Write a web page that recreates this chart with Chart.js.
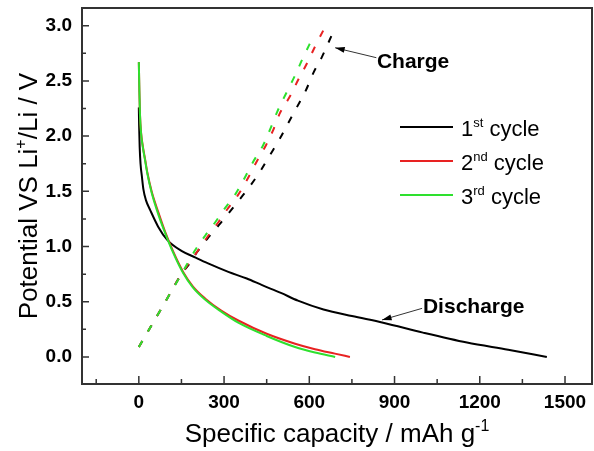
<!DOCTYPE html>
<html lang="en">
<head>
<meta charset="UTF-8">
<title>Potential vs specific capacity</title>
<script src="https://cdn.jsdelivr.net/npm/chart.js"></script>
<style>
    body { margin: 0; background: #fff; }
    #wrap { width: 594px; height: 451px; }
</style>
</head>
<body>
<div id="wrap"><canvas id="capChart" width="594" height="451"></canvas></div>
<script>
// values: capacity in mAh/g, potential in V
const dis1Cap = [0, 1, 3, 6, 11, 16, 25, 40, 68, 100, 150, 200, 250, 315, 380, 434, 500, 560, 650, 750, 860, 1000, 1155, 1300, 1436];
const dis1V   = [2.26, 2.1, 1.9, 1.75, 1.63, 1.52, 1.42, 1.33, 1.18, 1.06, 0.96, 0.9, 0.84, 0.77, 0.71, 0.65, 0.58, 0.51, 0.43, 0.37, 0.31, 0.22, 0.13, 0.065, 0.0];
const dis2Cap = [0, 2, 4, 8, 14, 22, 30, 45, 70, 93, 120, 156, 190, 233, 290, 350, 450, 550, 620, 690, 743];
const dis2V   = [2.67, 2.4, 2.2, 2.03, 1.91, 1.79, 1.67, 1.5, 1.3, 1.13, 0.96, 0.77, 0.64, 0.53, 0.42, 0.33, 0.21, 0.12, 0.07, 0.03, 0.0];
const dis3Cap = [0, 2, 4, 8, 14, 22, 30, 45, 70, 93, 120, 156, 190, 233, 290, 350, 450, 550, 620, 691];
const dis3V   = [2.67, 2.4, 2.2, 2.02, 1.9, 1.78, 1.66, 1.49, 1.28, 1.12, 0.95, 0.76, 0.63, 0.52, 0.41, 0.31, 0.19, 0.09, 0.04, 0.0];

const chg1Cap = [0, 50, 100, 150, 180, 205, 244, 287, 322, 356, 392, 427, 462, 497, 522, 556, 589, 614, 645, 680];
const chg1V   = [0.09, 0.31, 0.53, 0.75, 0.85, 0.95, 1.08, 1.21, 1.32, 1.43, 1.55, 1.68, 1.83, 1.98, 2.1, 2.26, 2.42, 2.57, 2.72, 2.92];
const chg2Cap = [0, 50, 100, 150, 210, 245, 280, 315, 350, 380, 415, 448, 472, 497, 532, 561, 592, 620, 662];
const chg2V   = [0.09, 0.31, 0.53, 0.75, 0.97, 1.1, 1.22, 1.35, 1.47, 1.6, 1.77, 1.92, 2.05, 2.21, 2.36, 2.51, 2.66, 2.81, 3.02];
const chg3Cap = [0, 50, 100, 150, 199, 234, 269, 304, 339, 368, 403, 438, 462, 487, 521, 550, 578, 610];
const chg3V   = [0.09, 0.31, 0.53, 0.75, 0.97, 1.1, 1.22, 1.35, 1.47, 1.6, 1.77, 1.92, 2.06, 2.22, 2.4, 2.55, 2.71, 2.88];

const cycleNums = ['1', '2', '3'];
const cycleSups = ['st', 'nd', 'rd'];
const cycleColors = ['#000000', '#e82222', '#2ee02e'];

const xMajor = [0, 300, 600, 900, 1200, 1500];
const xMinor = [-150, 150, 450, 750, 1050, 1350];
const yMajor = [0, 0.5, 1.0, 1.5, 2.0, 2.5, 3.0];
const yMinor = [0.25, 0.75, 1.25, 1.75, 2.25, 2.75];

// annotation text + arrow (text anchor, arrow start, arrow tip) in data units
const notes = [
    { text: 'Charge',    at: [838, 2.62], from: [836, 2.71], to: [691, 2.80] },
    { text: 'Discharge', at: [1000, 0.40], from: [997, 0.44], to: [856, 0.335] }
];

const FONT = 'Arial, "Liberation Sans", sans-serif';

function pts(xs, ys) {
    return xs.map((x, i) => ({ x: x, y: ys[i] }));
}

function fontStr(size, bold) {
    return (bold ? 'bold ' : '') + size + 'px ' + FONT;
}

// parts: [{t, sup}] drawn on one baseline, superscripts smaller and raised
function richWidth(ctx, parts, size, bold) {
    let w = 0;
    parts.forEach(p => {
        ctx.font = fontStr(p.sup ? Math.round(size * 0.6) : size, bold);
        w += ctx.measureText(p.t).width;
    });
    return w;
}

function drawRich(ctx, parts, x, y, size, bold, align) {
    let cx = align === 'center' ? x - richWidth(ctx, parts, size, bold) / 2 : x;
    ctx.textAlign = 'left';
    ctx.textBaseline = 'alphabetic';
    parts.forEach(p => {
        const s = p.sup ? Math.round(size * 0.6) : size;
        ctx.font = fontStr(s, bold);
        ctx.fillText(p.t, cx, p.sup ? y - size * 0.42 : y);
        cx += ctx.measureText(p.t).width;
    });
}

const decorPlugin = {
    id: 'decor',
    afterDatasetsDraw(chart) {
        const ctx = chart.ctx;
        const a = chart.chartArea;
        const xs = chart.scales.x, ys = chart.scales.y;
        ctx.save();

        // frame top and right
        ctx.strokeStyle = '#333';
        ctx.lineWidth = 2;
        ctx.beginPath();
        ctx.moveTo(a.left, a.top);
        ctx.lineTo(a.right, a.top);
        ctx.lineTo(a.right, a.bottom);
        ctx.stroke();

        // inward ticks
        ctx.lineWidth = 1.5;
        ctx.beginPath();
        yMajor.forEach(v => { const p = ys.getPixelForValue(v); ctx.moveTo(a.left, p); ctx.lineTo(a.left + 7, p); });
        yMinor.forEach(v => { const p = ys.getPixelForValue(v); ctx.moveTo(a.left, p); ctx.lineTo(a.left + 4, p); });
        xMajor.forEach(v => { const p = xs.getPixelForValue(v); ctx.moveTo(p, a.bottom); ctx.lineTo(p, a.bottom - 8); });
        xMinor.forEach(v => { const p = xs.getPixelForValue(v); ctx.moveTo(p, a.bottom); ctx.lineTo(p, a.bottom - 5); });
        ctx.stroke();

        // axis titles
        ctx.fillStyle = '#000';
        drawRich(ctx, [{ t: 'Specific capacity / mAh g' }, { t: '-1', sup: true }],
            (a.left + a.right) / 2, 442, 26, false, 'center');
        ctx.save();
        ctx.translate(37, (a.top + a.bottom) / 2);
        ctx.rotate(-Math.PI / 2);
        drawRich(ctx, [{ t: 'Potential VS Li' }, { t: '+', sup: true }, { t: '/Li / V' }],
            0, 0, 26, false, 'center');
        ctx.restore();

        // legend
        cycleNums.forEach((n, i) => {
            const y = a.top + 119 + i * 34;
            ctx.strokeStyle = cycleColors[i];
            ctx.lineWidth = 2;
            ctx.beginPath();
            ctx.moveTo(a.right - 192, y);
            ctx.lineTo(a.right - 139, y);
            ctx.stroke();
            ctx.fillStyle = '#000';
            drawRich(ctx, [{ t: n }, { t: cycleSups[i], sup: true }, { t: ' cycle' }],
                a.right - 131, y + 9, 22, false, 'left');
        });

        // annotations
        notes.forEach(nt => {
            const fx = xs.getPixelForValue(nt.from[0]), fy = ys.getPixelForValue(nt.from[1]);
            const tx = xs.getPixelForValue(nt.to[0]), ty = ys.getPixelForValue(nt.to[1]);
            ctx.strokeStyle = '#333';
            ctx.fillStyle = '#000';
            ctx.lineWidth = 1;
            ctx.beginPath();
            ctx.moveTo(fx, fy);
            ctx.lineTo(tx, ty);
            ctx.stroke();
            const ang = Math.atan2(ty - fy, tx - fx);
            ctx.beginPath();
            ctx.moveTo(tx, ty);
            ctx.lineTo(tx - 10 * Math.cos(ang - 0.3), ty - 10 * Math.sin(ang - 0.3));
            ctx.lineTo(tx - 10 * Math.cos(ang + 0.3), ty - 10 * Math.sin(ang + 0.3));
            ctx.closePath();
            ctx.fill();
            ctx.font = fontStr(21, true);
            ctx.textAlign = 'left';
            ctx.textBaseline = 'alphabetic';
            ctx.fillText(nt.text, xs.getPixelForValue(nt.at[0]), ys.getPixelForValue(nt.at[1]));
        });

        ctx.restore();
    }
};

function series(label, xs, ys, color, dashed, order) {
    return {
        label: label,
        data: pts(xs, ys),
        borderColor: color,
        borderWidth: 2,
        borderDash: dashed ? [7, 11] : [],
        showLine: true,
        pointRadius: 0,
        cubicInterpolationMode: 'monotone',
        order: order
    };
}

new Chart(document.getElementById('capChart'), {
    type: 'scatter',
    data: {
        datasets: [
            series('3rd discharge', dis3Cap, dis3V, cycleColors[2], false, 1),
            series('3rd charge', chg3Cap, chg3V, cycleColors[2], true, 1),
            series('2nd discharge', dis2Cap, dis2V, cycleColors[1], false, 2),
            series('2nd charge', chg2Cap, chg2V, cycleColors[1], true, 2),
            series('1st discharge', dis1Cap, dis1V, cycleColors[0], false, 3),
            series('1st charge', chg1Cap, chg1V, cycleColors[0], true, 3)
        ]
    },
    options: {
        responsive: false,
        animation: false,
        layout: { padding: { top: 8, right: 2, left: 0, bottom: 0 } },
        plugins: { legend: { display: false }, tooltip: { enabled: false } },
        scales: {
            x: {
                type: 'linear',
                min: -200,
                max: 1595,
                grid: { display: false, drawTicks: false },
                border: { display: true, color: '#333', width: 2 },
                afterBuildTicks: ax => { ax.ticks = xMajor.map(v => ({ value: v })); },
                afterFit: ax => { ax.height = 67; ax.paddingLeft = 0; ax.paddingRight = 0; },
                ticks: {
                    padding: 7,
                    color: '#000',
                    font: { family: FONT, size: 19, weight: 'bold' },
                    maxRotation: 0,
                    callback: v => String(v)
                }
            },
            y: {
                type: 'linear',
                min: -0.245,
                max: 3.16,
                grid: { display: false, drawTicks: false },
                border: { display: true, color: '#333', width: 2 },
                afterBuildTicks: ax => { ax.ticks = yMajor.map(v => ({ value: v })); },
                afterFit: ax => { ax.width = 82; ax.paddingTop = 0; ax.paddingBottom = 0; },
                ticks: {
                    padding: 10,
                    color: '#000',
                    font: { family: FONT, size: 19, weight: 'bold' },
                    callback: v => v.toFixed(1)
                }
            }
        }
    },
    plugins: [decorPlugin]
});
</script>
</body>
</html>
